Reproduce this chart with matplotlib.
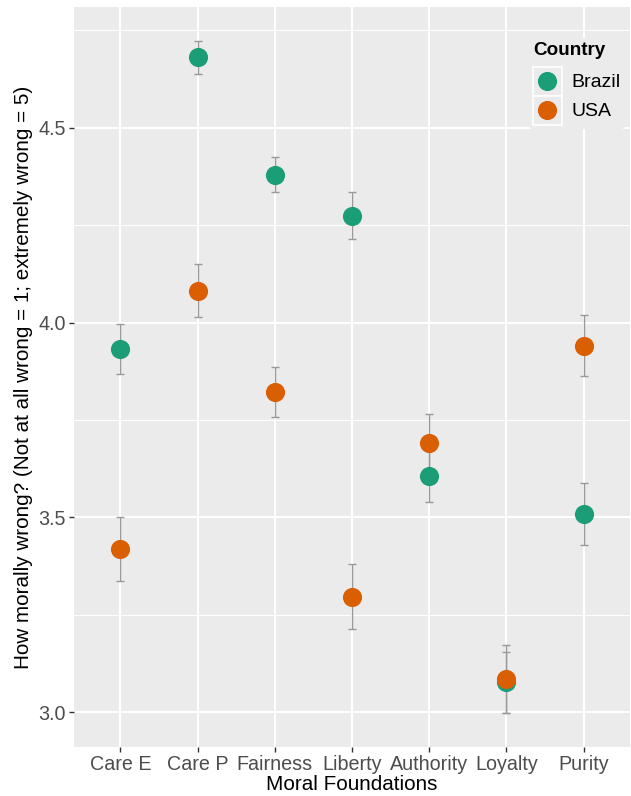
import matplotlib
matplotlib.use("Agg")
import matplotlib.pyplot as plt
from matplotlib.legend_handler import HandlerBase
from matplotlib.patches import Rectangle
from matplotlib.lines import Line2D
import numpy as np

plt.rcParams['font.family'] = ['Liberation Sans', 'DejaVu Sans']

categories = ["Care E", "Care P", "Fairness", "Liberty", "Authority", "Loyalty", "Purity"]
countries = ["Brazil", "USA"]
brazil_mean = [3.932, 4.681, 4.380, 4.274, 3.605, 3.077, 3.508]
brazil_err = [0.064, 0.042, 0.044, 0.060, 0.066, 0.078, 0.080]
usa_mean = [3.418, 4.082, 3.821, 3.296, 3.692, 3.085, 3.941]
usa_err = [0.082, 0.069, 0.064, 0.083, 0.073, 0.087, 0.079]
colors = {"Brazil": "#1B9E77", "USA": "#D95F02"}
yticks = [3.0, 3.5, 4.0, 4.5]
yminor = [3.25, 3.75, 4.25, 4.75]

W, H = 631, 796
fig = plt.figure(figsize=(W / 100, H / 100), dpi=100)
ax = fig.add_axes([74 / W, 1 - 746.5 / H, (630 - 74) / W, (746.5 - 7.3) / H])
ax.set_facecolor("#EBEBEB")
for s in ax.spines.values():
    s.set_visible(False)

x = np.arange(1, len(categories) + 1)
series = {"Brazil": (brazil_mean, brazil_err), "USA": (usa_mean, usa_err)}

# grid
for yv in yminor:
    ax.axhline(yv, color="white", lw=0.75, zorder=0)
for yv in yticks:
    ax.axhline(yv, color="white", lw=1.45, zorder=0)
for xv in x:
    ax.axvline(xv, color="white", lw=1.45, zorder=0)

for c in countries:
    m, e = series[c]
    ax.errorbar(x, m, yerr=e, fmt="none", ecolor="#999999", elinewidth=1.0,
                capsize=3.1, capthick=1.0, zorder=2)
handles = []
for c in countries:
    m, e = series[c]
    h, = ax.plot(x, m, "o", color=colors[c], ms=13.8, mew=0, zorder=3, label=c)
    handles.append(h)

lo = min(min(np.array(brazil_mean) - brazil_err), min(np.array(usa_mean) - usa_err))
hi = max(max(np.array(brazil_mean) + brazil_err), max(np.array(usa_mean) + usa_err))
pad = (hi - lo) * 0.05
ax.set_ylim(lo - pad, hi + pad)
ax.set_xlim(0.4, len(categories) + 0.6)
ax.set_xticks(x)
ax.set_xticklabels(categories)
ax.set_yticks(yticks)
ax.set_yticklabels([f"{v:.1f}" for v in yticks])
ax.tick_params(axis="both", colors="#333333", length=3.5, width=1.0, labelsize=14.2,
               labelcolor="#4D4D4D", pad=2.5)
ax.set_xlabel("Moral Foundations", fontsize=14.9, color="black", labelpad=1)
ax.set_ylabel("How morally wrong? (Not at all wrong = 1; extremely wrong = 5)",
              fontsize=14.9, color="black", labelpad=4)


class KeyHandler(HandlerBase):
    def create_artists(self, legend, orig_handle, xdescent, ydescent, width, height, fontsize, trans):
        rect = Rectangle((-xdescent, -ydescent), width, height, facecolor="#EBEBEB",
                         edgecolor="white", lw=1.2, transform=trans)
        pt = Line2D([width / 2 - xdescent], [height / 2 - ydescent], marker="o", ms=13.8,
                    mew=0, color=orig_handle.get_color(), transform=trans, linestyle="none")
        return [rect, pt]


leg = ax.legend(handles=handles, labels=countries, title="Country",
                handler_map={Line2D: KeyHandler(xpad=0, ypad=0)},
                loc="upper left", bbox_to_anchor=(529 / W, 1 - 38 / H),
                bbox_transform=fig.transFigure,
                fontsize=14, title_fontsize=13.6, frameon=True,
                facecolor="#EBEBEB", edgecolor="none", framealpha=1,
                handlelength=1.5, handleheight=1.93, labelspacing=0.0,
                handletextpad=0.5, borderpad=0.2, borderaxespad=0)
leg.get_title().set_fontweight("bold")
leg._legend_box.align = "left"
leg._legend_box.sep = 5.5
leg.set_zorder(5)

fig.savefig("out.png", dpi=100)
